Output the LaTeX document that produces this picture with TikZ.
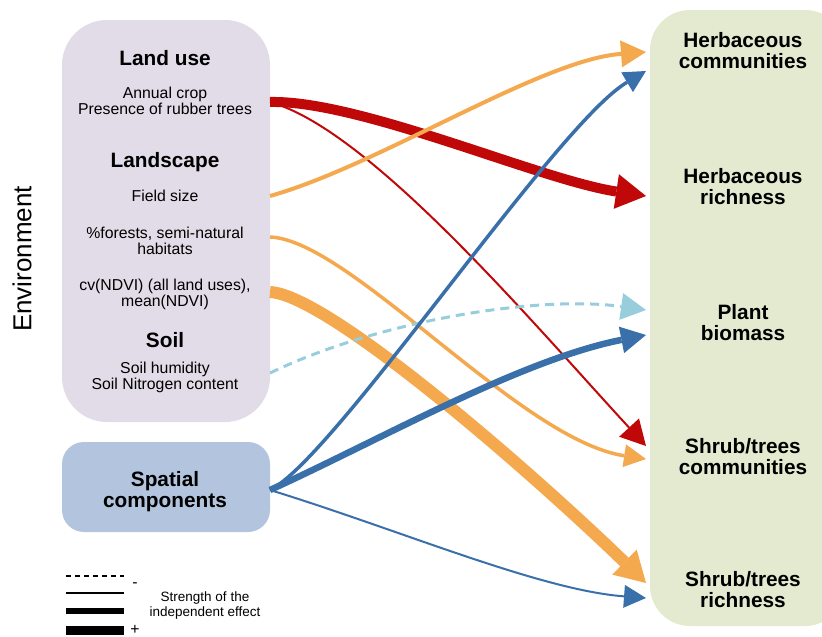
\documentclass[tikz,border=0pt]{standalone}
\usepackage{fontspec}
\setmainfont{Liberation Sans}
\usetikzlibrary{arrows.meta,positioning}
\definecolor{lilac}{HTML}{E2DCE8}
\definecolor{spblue}{HTML}{B3C5DE}
\definecolor{sage}{HTML}{E4EAD0}
\definecolor{effred}{HTML}{C00808}
\definecolor{efforange}{HTML}{F4A94F}
\definecolor{effblue}{HTML}{3A70AA}
\definecolor{effcyan}{HTML}{98CEDC}
\begin{document}
\begin{tikzpicture}[x=1pt,y=-1pt,
  var/.style={font=\fontsize{15.8}{16}\selectfont,align=center,inner sep=0pt},
  head/.style={font=\fontsize{20.8}{21}\selectfont\bfseries,align=center,inner sep=0pt},
  tipS/.style={-{Triangle[length=22pt,width=23pt,line width=0pt]}},
  tipM/.style={-{Triangle[length=25pt,width=27pt,line width=0pt]}},
  tipL/.style={-{Triangle[length=30pt,width=35pt,line width=0pt]}}]
\useasboundingbox (0,0) rectangle (822,637);
\clip (0,0) rectangle (822,637);
% boxes
\fill[lilac,rounded corners=45pt] (62,20) rectangle (270,422);
\fill[spblue,rounded corners=22pt] (62,442) rectangle (270,532);
\fill[sage,rounded corners=40pt] (650,10) rectangle (845,626);
\node[rotate=90,font=\fontsize{26}{26}\selectfont] (envlabel) at (22,259) {Environment};
% environment variables
\node[head] (landuse) at (165,58) {Land use};
\node[var] (crop) at (165,101) {Annual crop\\Presence of rubber trees};
\node[head] (landscape) at (165,162) {Landscape};
\node[var] (field) at (165,196) {Field size};
\node[var] (forest) at (165,241) {\%forests, semi-natural\\habitats};
\node[var] (ndvi) at (165,294) {cv(NDVI) (all land uses),\\mean(NDVI)};
\node[head] (soil) at (165,340) {Soil};
\node[var] (soilvar) at (165,377) {Soil humidity\\Soil Nitrogen content};
\node[head] (spatial) at (165,492) {Spatial\\components};
% responses
\node[head] (herbcom) at (743,51) {Herbaceous\\communities};
\node[head] (herbrich) at (743,187) {Herbaceous\\richness};
\node[head] (biomass) at (743,323) {Plant\\biomass};
\node[head] (shrubcom) at (743,457) {Shrub/trees\\communities};
\node[head] (shrubrich) at (743,590) {Shrub/trees\\richness};
% exits and entries
\coordinate (crop-out) at (270,102);
\coordinate (field-out) at (270,196);
\coordinate (forest-out) at (270,237);
\coordinate (ndvi-out) at (270,292);
\coordinate (soil-out) at (270,373);
\coordinate (sp-out) at (270,490);
\coordinate (herbcom-a) at (646,52);
\coordinate (herbcom-b) at (646,71);
\coordinate (herbrich-a) at (646,196);
\coordinate (biomass-a) at (646,310);
\coordinate (biomass-b) at (646,335);
\coordinate (shrubcom-a) at (646,446);
\coordinate (shrubcom-b) at (646,459);
\coordinate (shrubrich-a) at (646,583);
\coordinate (shrubrich-b) at (646,598);
% effects
\draw[effred,line width=10pt,tipL] (crop-out) .. controls (360,100) and (540,180) .. (herbrich-a);
\draw[effred,line width=2pt,tipM] (crop-out) .. controls (370,130) and (530,320) .. (shrubcom-a);
\draw[efforange,line width=4pt,tipM] (field-out) .. controls (380,165) and (540,60) .. (herbcom-a);
\draw[efforange,line width=3.5pt,tipS] (forest-out) .. controls (350,240) and (520,440) .. (shrubcom-b);
\draw[efforange,line width=12pt,tipL] (ndvi-out) .. controls (330,295) and (540,480) .. (shrubrich-a);
\draw[effcyan,line width=3pt,dash pattern=on 9pt off 6pt,tipM] (soil-out) .. controls (380,320) and (540,295) .. (biomass-a);
\draw[effblue,line width=3.5pt,tipS] (sp-out) .. controls (335,458) and (555,125) .. (herbcom-b);
\draw[effblue,line width=6.5pt,tipM] (sp-out) .. controls (380,440) and (520,360) .. (biomass-b);
\draw[effblue,line width=2pt,tipS] (sp-out) .. controls (400,530) and (540,590) .. (shrubrich-b);
% legend
\draw[line width=1.5pt,dash pattern=on 5pt off 4pt] (66,576) -- (124,576);
\draw[line width=2pt] (66,593) -- (124,593);
\draw[line width=6pt] (66,611) -- (124,611);
\draw[line width=9pt] (66,630) -- (124,630);
\node[var] (minus) at (135,585) {-};
\node[var] (plus) at (135,630) {+};
\node[font=\fontsize{13.5}{15}\selectfont,align=center,inner sep=0pt] (legend) at (205,606) {Strength of the\\independent effect};
\end{tikzpicture}
\end{document}
